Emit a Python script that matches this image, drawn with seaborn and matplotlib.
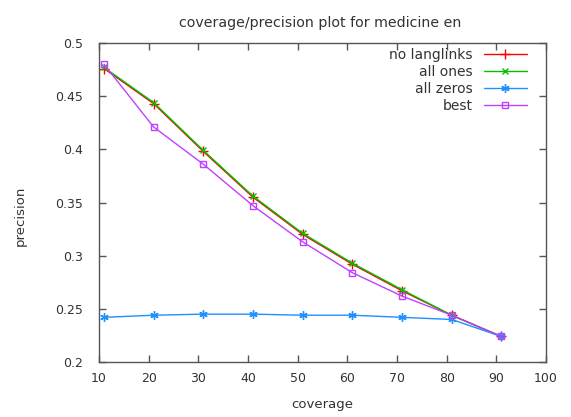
import matplotlib
matplotlib.use("Agg")
import matplotlib.pyplot as plt
import seaborn as sns
import numpy as np

coverage = [11, 21, 31, 41, 51, 61, 71, 81, 91]
no_langlinks = [0.476, 0.443, 0.398, 0.355, 0.320, 0.292, 0.267, 0.244, 0.224]
all_ones = [0.477, 0.444, 0.399, 0.356, 0.321, 0.293, 0.268, 0.244, 0.224]
all_zeros = [0.242, 0.244, 0.245, 0.245, 0.244, 0.244, 0.242, 0.240, 0.224]
best = [0.480, 0.421, 0.386, 0.347, 0.313, 0.284, 0.262, 0.244, 0.224]

series_names = ["no langlinks", "all ones", "all zeros", "best"]
xticks = [10, 20, 30, 40, 50, 60, 70, 80, 90, 100]
yticks = [0.2, 0.25, 0.3, 0.35, 0.4, 0.45, 0.5]

sns.set_style("white")
plt.rcParams['font.family'] = ['DejaVu Sans']

fig = plt.figure(figsize=(5.71, 4.17), dpi=100)
ax = fig.add_axes([99/571, 55/417, (546-99)/571, (362-43)/417])

styles = [
    ("#ff0000", "+", 7, "full"),
    ("#00c000", "x", 5, "full"),
    ("#1e90ff", (6, 2, 0), 6, "full"),
    ("#c040ff", "s", 5, "none"),
]
data = [no_langlinks, all_ones, all_zeros, best]
for name, vals, (c, m, ms, fs) in zip(series_names, data, styles):
    sns.lineplot(x=coverage, y=vals, ax=ax, color=c, marker=m, markersize=ms,
                 markeredgecolor=c, markerfacecolor="none" if fs == "none" else c,
                 markeredgewidth=1.0, linewidth=1.0, label=name)

ax.set_xlim(10, 100)
ax.set_ylim(0.2, 0.5)
ax.set_xticks(xticks)
ax.set_yticks(yticks)
ax.set_xticklabels([str(t) for t in xticks])
ax.set_yticklabels(["%g" % t for t in yticks])
ax.tick_params(direction="in", length=5, width=1, colors="#555555",
               labelcolor="#333333", labelsize=9, top=True, right=True,
               bottom=True, left=True)
ax.tick_params(axis="y", pad=11.5)
ax.tick_params(axis="x", pad=7)
for s in ax.spines.values():
    s.set_color("#555555")
    s.set_linewidth(1)

ax.set_xlabel("coverage", fontsize=9.5, color="#333333")
ax.xaxis.set_label_coords(0.5, (362 - 398) / 319)
ax.set_ylabel("precision", fontsize=9.5, color="#333333")
ax.yaxis.set_label_coords((27 - 99) / 447, (362 - 216) / 319)
fig.text(320/571, 1 - 23/417, "coverage/precision plot for medicine en",
         ha="center", va="center", fontsize=10.2, color="#333333")

leg = ax.legend(loc="upper right", markerfirst=False, frameon=False,
                fontsize=10, handlelength=3.1, labelspacing=0.22,
                borderpad=0, borderaxespad=0, handletextpad=0.8,
                bbox_to_anchor=(527/571, 1 - 48/417),
                bbox_transform=fig.transFigure)
for t in leg.get_texts():
    t.set_color("#333333")

fig.savefig("out.png", dpi=100)
